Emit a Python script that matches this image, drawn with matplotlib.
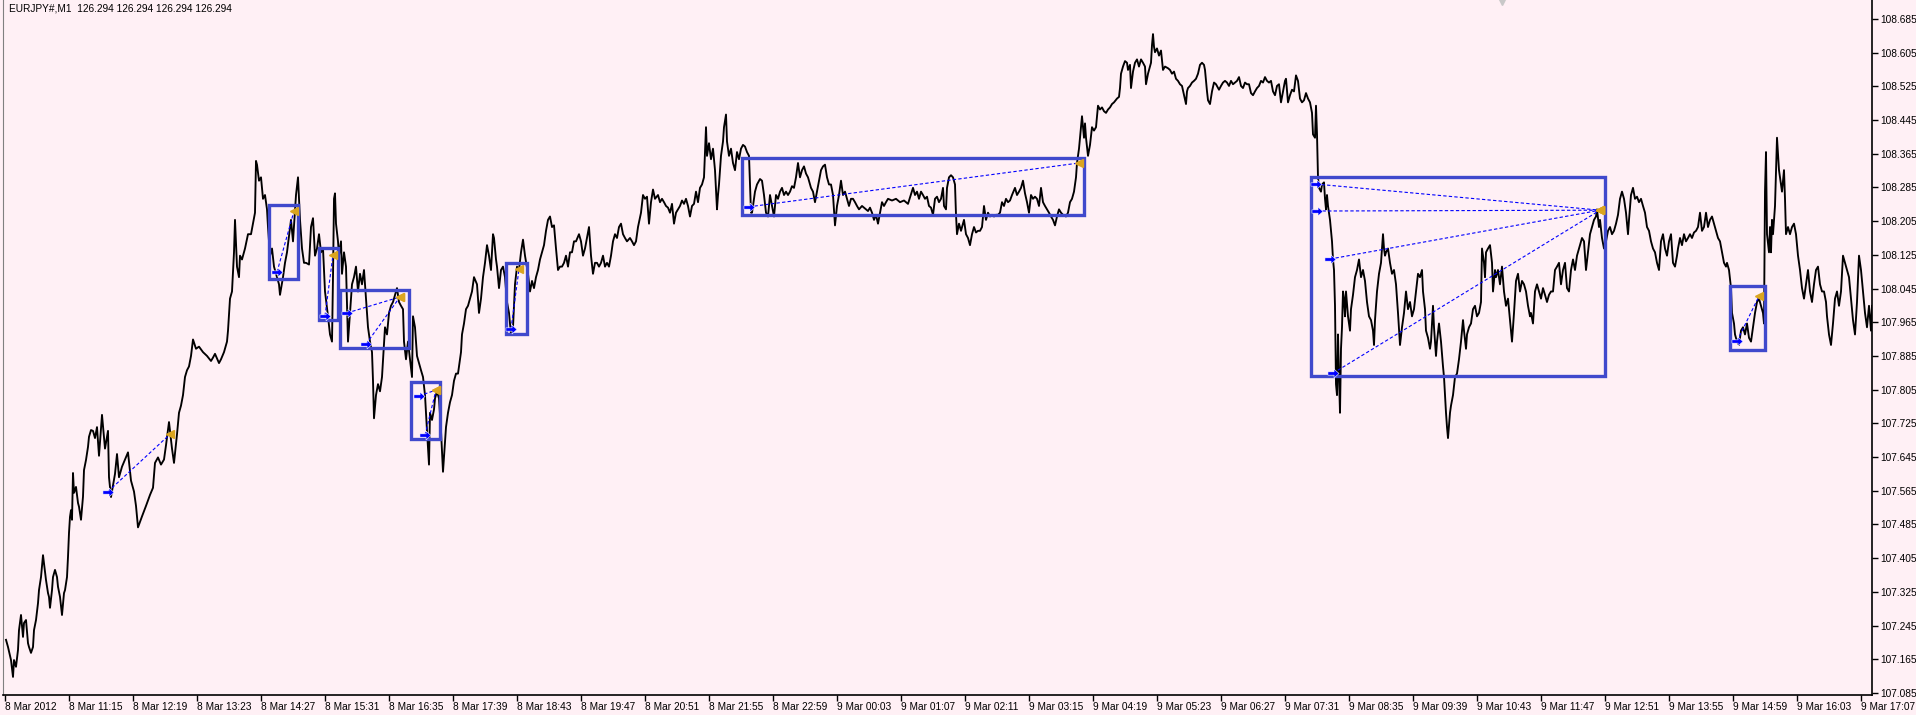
import numpy as np
import matplotlib.pyplot as plt
from matplotlib.patches import Rectangle
from matplotlib.path import Path

# EURJPY M1 close, minutes counted from 8 Mar 10:11
minute = [1, 3, 6, 8, 9, 11, 13, 14, 16, 18, 19, 21, 23, 24, 26, 28, 29, 31, 33, 34, 36, 38, 39, 41, 43,
          44, 45, 47, 48, 50, 52, 53, 55, 57, 59, 60, 62, 63, 64, 65, 66, 67, 68, 69, 71, 73, 74, 76, 78, 79,
          81, 83, 84, 86, 88, 90, 92, 94, 97, 100, 103, 104, 106, 110, 112, 114, 117, 120, 123,
          126, 129, 131, 133, 137, 141, 145, 148, 150, 153, 156, 159, 161, 164, 167, 169, 172, 174, 176, 178,
          180, 182, 184, 186, 188, 191, 194, 198, 202, 206, 208, 210, 214, 216, 219, 222, 223, 225, 227, 229,
          230, 232, 234, 235, 237, 240, 243, 246, 248, 250, 251, 252, 254, 256, 258, 260, 262, 263, 265, 267,
          269, 272, 274, 275, 278, 280, 282, 286, 288, 290, 291, 293, 294, 295, 297, 299, 301, 304, 306, 308,
          310, 312, 314, 316, 318, 320, 323, 325, 327, 328, 329, 330, 331, 333, 334, 336, 337, 339, 341, 343,
          345, 347, 349, 351, 353, 355, 357, 359, 361, 363, 365, 367, 368, 369, 371, 373, 375, 377, 380, 382,
          384, 386, 388, 391, 392, 394, 396, 398, 399, 401, 403, 405, 407, 408, 410, 412, 414, 416, 418, 420,
          422, 424, 425, 427, 429, 430, 432, 434, 436, 438, 440, 441, 443, 445, 447, 449, 451, 453, 455, 456,
          457, 459, 461, 463, 465, 467, 469, 472, 474, 476, 478, 480, 482, 484, 486, 488, 489, 491, 492, 494,
          496, 498, 500, 502, 504, 506, 508, 510, 512, 514, 516, 518, 520, 523, 525, 527, 529, 531, 533, 535,
          537, 539, 541, 543, 545, 547, 549, 551, 553, 555, 557, 559, 561, 563, 565, 567, 569, 571, 574, 576,
          578, 580, 582, 584, 586, 588, 590, 592, 594, 596, 598, 600, 602, 604, 606, 608, 610, 612, 614, 616,
          618, 620, 622, 625, 627, 629, 631, 633, 636, 638, 640, 642, 644, 646, 648, 650, 653, 655, 657, 659,
          661, 663, 665, 667, 669, 671, 673, 675, 677, 679, 681, 683, 685, 687, 689, 691, 693, 695, 697, 699,
          701, 702, 704, 706, 708, 710, 712, 713, 714, 716, 718, 719, 721, 722, 724, 726, 728, 730, 732, 734,
          736, 738, 740, 742, 744, 746, 747, 748, 750, 752, 755, 757, 759, 761, 763, 765, 767, 769, 771, 773,
          775, 777, 779, 781, 783, 785, 787, 789, 791, 793, 795, 797, 799, 801, 803, 806, 808, 810, 812, 814,
          816, 818, 820, 822, 824, 826, 828, 830, 832, 834, 836, 838, 840, 842, 844, 846, 848, 850, 852, 854,
          857, 859, 861, 863, 865, 867, 869, 871, 873, 875, 877, 879, 881, 883, 887, 891, 895, 899, 903, 908,
          910, 912, 914, 916, 918, 920, 922, 924, 926, 928, 930, 932, 934, 936, 938, 939, 941, 942, 944, 946,
          948, 950, 951, 952, 954, 956, 959, 961, 963, 965, 967, 969, 971, 973, 975, 977, 979, 981, 983, 985,
          987, 989, 991, 993, 995, 997, 999, 1001, 1003, 1005, 1007, 1010, 1012, 1014, 1016, 1018, 1020, 1022,
          1024, 1026, 1028, 1030, 1032, 1034, 1036, 1038, 1040, 1042, 1044, 1046, 1048, 1050, 1052, 1054, 1056,
          1058, 1061, 1063, 1065, 1067, 1069, 1071, 1072, 1074, 1075, 1077, 1078, 1079, 1080, 1081, 1083, 1085,
          1087, 1089, 1091, 1093, 1095, 1097, 1099, 1101, 1103, 1105, 1107, 1109, 1112, 1114, 1115, 1116, 1118,
          1120, 1122, 1123, 1125, 1126, 1128, 1130, 1132, 1134, 1136, 1138, 1140, 1141, 1143, 1144, 1146, 1147,
          1148, 1149, 1150, 1152, 1154, 1156, 1158, 1160, 1163, 1165, 1167, 1169, 1171, 1173, 1175, 1177, 1179,
          1181, 1182, 1183, 1185, 1187, 1189, 1191, 1193, 1195, 1197, 1199, 1200, 1202, 1203, 1205, 1207, 1209,
          1211, 1214, 1216, 1218, 1220, 1222, 1224, 1226, 1228, 1230, 1232, 1234, 1236, 1238, 1240, 1242, 1244,
          1246, 1248, 1250, 1252, 1254, 1256, 1258, 1260, 1262, 1264, 1266, 1268, 1270, 1272, 1274, 1276, 1278,
          1280, 1281, 1283, 1285, 1287, 1289, 1291, 1293, 1295, 1297, 1299, 1301, 1303, 1305, 1307, 1308, 1310,
          1311, 1312, 1313, 1314, 1316, 1317, 1319, 1320, 1321, 1322, 1323, 1325, 1327, 1328, 1329, 1330, 1331,
          1332, 1333, 1334, 1335, 1336, 1337, 1338, 1339, 1340, 1341, 1343, 1345, 1346, 1348, 1350, 1352, 1354,
          1356, 1358, 1360, 1362, 1364, 1366, 1368, 1369, 1370, 1372, 1374, 1376, 1378, 1379, 1380, 1381, 1383,
          1385, 1387, 1389, 1391, 1393, 1395, 1397, 1399, 1401, 1403, 1405, 1407, 1409, 1411, 1413, 1415, 1417,
          1418, 1420, 1421, 1423, 1425, 1426, 1428, 1429, 1431, 1432, 1434, 1436, 1438, 1439, 1441, 1442, 1443,
          1445, 1446, 1448, 1450, 1452, 1454, 1456, 1458, 1459, 1461, 1462, 1464, 1466, 1468, 1470, 1472, 1474,
          1476, 1477, 1479, 1480, 1481, 1483, 1485, 1487, 1488, 1490, 1491, 1493, 1495, 1497, 1499, 1501, 1503,
          1505, 1507, 1509, 1511, 1513, 1515, 1517, 1519, 1521, 1523, 1525, 1526, 1528, 1530, 1532, 1534, 1536,
          1538, 1540, 1542, 1544, 1546, 1548, 1550, 1552, 1554, 1556, 1558, 1560, 1562, 1564, 1566, 1568, 1570,
          1572, 1574, 1575, 1577, 1579, 1581, 1583, 1585, 1587, 1589, 1591, 1592, 1594, 1595, 1597, 1599, 1601,
          1603, 1605, 1607, 1609, 1611, 1613, 1615, 1617, 1619, 1621, 1623, 1624, 1626, 1628, 1630, 1632, 1634,
          1636, 1638, 1640, 1642, 1644, 1646, 1648, 1650, 1652, 1654, 1656, 1658, 1660, 1662, 1664, 1666, 1668,
          1670, 1672, 1673, 1675, 1677, 1679, 1681, 1683, 1685, 1687, 1689, 1691, 1693, 1695, 1697, 1699, 1701,
          1703, 1705, 1707, 1709, 1711, 1713, 1715, 1717, 1719, 1721, 1722, 1724, 1726, 1727, 1729, 1730, 1732,
          1734, 1736, 1738, 1740, 1742, 1744, 1746, 1748, 1750, 1752, 1754, 1756, 1758, 1759, 1760, 1761, 1762,
          1764, 1765, 1766, 1767, 1768, 1770, 1771, 1772, 1774, 1775, 1777, 1779, 1780, 1781, 1783, 1785, 1787,
          1789, 1791, 1793, 1795, 1797, 1799, 1801, 1803, 1805, 1807, 1809, 1811, 1813, 1815, 1817, 1819, 1821,
          1822, 1824, 1826, 1828, 1830, 1832, 1834, 1836, 1838, 1840, 1842, 1844, 1846, 1848, 1850, 1852, 1854,
          1856, 1858, 1860, 1862, 1864, 1866, 1867]

price = [107.211, 107.194, 107.163, 107.123, 107.163, 107.147, 107.187, 107.234, 107.270, 107.218, 107.251,
         107.258, 107.203, 107.194, 107.180, 107.194, 107.234, 107.258, 107.298, 107.329, 107.360, 107.412, 107.393,
         107.353, 107.322, 107.313, 107.287, 107.329, 107.360, 107.377, 107.360, 107.337, 107.313, 107.270, 107.322,
         107.329, 107.360, 107.408, 107.465, 107.503, 107.519, 107.496, 107.607, 107.560, 107.574, 107.536, 107.527,
         107.496, 107.551, 107.614, 107.638, 107.669, 107.693, 107.709,
         107.707, 107.690, 107.716, 107.648, 107.745, 107.665, 107.707, 107.597, 107.550, 107.605, 107.652, 107.597,
         107.622, 107.639, 107.656, 107.589, 107.563,
         107.529, 107.478, 107.504, 107.529, 107.555, 107.572, 107.631, 107.644, 107.627, 107.639, 107.673, 107.728,
         107.665, 107.631, 107.699, 107.750, 107.767, 107.792, 107.835, 107.851, 107.860, 107.885, 107.924, 107.902,
         107.907, 107.894, 107.885, 107.873, 107.881, 107.890, 107.868, 107.877, 107.894, 107.919, 107.945, 108.021,
         108.038, 108.131, 108.208, 108.097, 108.072, 108.123, 108.114, 108.140, 108.174, 108.174, 108.199, 108.225,
         108.348, 108.339, 108.301, 108.309, 108.258, 108.267, 108.233, 108.191, 108.123, 108.140, 108.097, 108.072,
         108.055, 108.030, 108.072, 108.106, 108.131, 108.208, 108.157, 108.233, 108.267, 108.309, 108.258, 108.208,
         108.140, 108.106, 108.106, 108.102, 108.191, 108.212, 108.123, 108.140, 108.174, 108.131, 108.140, 108.038,
         107.979, 107.936, 107.919, 108.072, 108.258, 108.271, 108.199, 108.157, 108.123, 108.157, 108.080, 108.131,
         108.097, 107.919, 107.987, 108.055, 108.072, 108.097, 108.038, 108.080, 108.055, 108.089, 108.021, 107.953,
         107.919, 107.894, 107.826, 107.737, 107.792, 107.818, 107.801, 107.835, 107.953, 107.936, 107.987, 108.004,
         108.013, 108.038, 108.046, 108.013, 108.004, 107.996, 107.919, 107.877, 107.919, 107.877, 107.835, 107.979,
         107.953, 107.885, 107.868, 107.851, 107.835, 107.792, 107.707, 107.627, 107.750, 107.733, 107.758, 107.784,
         107.801, 107.784, 107.707, 107.610, 107.682, 107.716, 107.750, 107.775, 107.792, 107.826, 107.843, 107.843,
         107.877, 107.894, 107.936, 107.962, 107.996, 108.004, 108.021, 108.038, 108.072, 108.055, 107.987, 108.021,
         108.072, 108.106, 108.148, 108.123, 108.089, 108.174, 108.165, 108.114, 108.097, 108.046, 108.089, 108.097,
         108.072, 108.013, 107.987, 107.936, 107.953, 108.055, 108.097, 108.089, 108.131, 108.161, 108.123, 108.080,
         108.038, 108.063, 108.046, 108.072, 108.089, 108.114, 108.131, 108.148, 108.182, 108.208, 108.216, 108.191,
         108.195, 108.140, 108.089, 108.097, 108.097, 108.106, 108.123, 108.097, 108.131, 108.131, 108.157, 108.157,
         108.174, 108.157, 108.123, 108.140, 108.165, 108.191, 108.123, 108.080, 108.106, 108.106, 108.097, 108.106,
         108.123, 108.097, 108.106, 108.097, 108.123, 108.157, 108.174, 108.165, 108.191, 108.199, 108.174, 108.165,
         108.157, 108.165, 108.157, 108.148, 108.157, 108.191, 108.225, 108.267, 108.258, 108.263, 108.199, 108.250,
         108.280, 108.258, 108.267, 108.250, 108.258, 108.250, 108.241, 108.237, 108.225, 108.246, 108.199, 108.225,
         108.233, 108.241, 108.254, 108.246, 108.258, 108.241, 108.216, 108.241, 108.246, 108.275, 108.250, 108.284,
         108.292, 108.309, 108.428, 108.360, 108.390, 108.352, 108.377, 108.326, 108.233, 108.267, 108.292, 108.360,
         108.394, 108.428, 108.458, 108.394, 108.360, 108.377, 108.343, 108.326, 108.369, 108.352, 108.377, 108.386,
         108.382, 108.369, 108.360, 108.225, 108.225, 108.241, 108.275, 108.292, 108.305, 108.301, 108.267, 108.225,
         108.216, 108.267, 108.241, 108.216, 108.267, 108.258, 108.275, 108.284, 108.267, 108.275, 108.267, 108.275,
         108.288, 108.284, 108.309, 108.343, 108.309, 108.326, 108.335, 108.318, 108.309, 108.284, 108.275, 108.250,
         108.275, 108.301, 108.326, 108.335, 108.339, 108.309, 108.292, 108.292, 108.267, 108.195, 108.241, 108.267,
         108.301, 108.267, 108.275, 108.258, 108.241, 108.258, 108.258, 108.250, 108.241, 108.233, 108.241, 108.237,
         108.233, 108.229, 108.237, 108.225, 108.208, 108.220, 108.199, 108.225, 108.250, 108.241, 108.250, 108.258,
         108.254, 108.258, 108.250, 108.254, 108.246, 108.284, 108.267, 108.275, 108.258, 108.275, 108.267, 108.258,
         108.263, 108.241, 108.237, 108.220, 108.258, 108.263, 108.250, 108.258, 108.284, 108.241, 108.233, 108.284,
         108.309, 108.314, 108.309, 108.292, 108.220, 108.174, 108.199, 108.182, 108.208, 108.174, 108.165, 108.148,
         108.174, 108.191, 108.178, 108.182, 108.182, 108.191, 108.241, 108.208, 108.225, 108.216, 108.220, 108.216,
         108.220, 108.220, 108.225, 108.250, 108.241, 108.258, 108.250, 108.254, 108.267, 108.284, 108.267, 108.275,
         108.284, 108.301, 108.271, 108.250, 108.225, 108.267, 108.258, 108.263, 108.258, 108.241, 108.284, 108.250,
         108.241, 108.233, 108.225, 108.216, 108.208, 108.195, 108.216, 108.233, 108.225, 108.220, 108.216, 108.225,
         108.250, 108.258, 108.275, 108.309, 108.343, 108.377, 108.403, 108.454, 108.428, 108.403, 108.437, 108.403,
         108.360, 108.386, 108.428, 108.420, 108.428, 108.479, 108.470, 108.475, 108.466, 108.462, 108.470, 108.475,
         108.483, 108.487, 108.496, 108.500, 108.521, 108.555, 108.572, 108.585, 108.581, 108.564, 108.576, 108.521,
         108.560, 108.581, 108.589, 108.572, 108.589, 108.581, 108.572, 108.530, 108.555, 108.564, 108.581, 108.623,
         108.649, 108.619, 108.606, 108.615, 108.598, 108.610, 108.564, 108.572, 108.568, 108.564, 108.555, 108.560,
         108.543, 108.538, 108.530, 108.526, 108.504, 108.483, 108.513, 108.521, 108.526, 108.534, 108.538, 108.543,
         108.555, 108.576, 108.581, 108.576, 108.564, 108.513, 108.492, 108.483, 108.513, 108.534, 108.530, 108.517,
         108.526, 108.534, 108.538, 108.534, 108.526, 108.538, 108.530, 108.534, 108.538, 108.547, 108.526, 108.521,
         108.534, 108.530, 108.530, 108.509, 108.504, 108.513, 108.521, 108.526, 108.538, 108.534, 108.547, 108.538,
         108.534, 108.538, 108.513, 108.504, 108.526, 108.530, 108.487, 108.513, 108.538, 108.543, 108.487, 108.504,
         108.517, 108.513, 108.551, 108.538, 108.496, 108.487, 108.492, 108.509, 108.496, 108.487, 108.462, 108.411,
         108.403, 108.479, 108.411, 108.309, 108.284, 108.275, 108.292, 108.297, 108.258, 108.233, 108.267, 108.241,
         108.208, 108.157, 108.114, 108.089, 108.004, 107.818, 107.792, 107.936, 107.835, 107.750, 107.902, 107.953,
         108.038, 108.021, 107.979, 108.038, 107.979, 107.945, 107.996, 108.030, 108.072, 108.089, 108.114, 108.072,
         108.089, 108.063, 108.013, 107.979, 107.970, 107.945, 107.911, 107.970, 108.038, 108.080, 108.106, 108.174,
         108.140, 108.123, 108.131, 108.140, 108.106, 108.080, 108.089, 108.055, 107.987, 107.911, 107.953, 107.987,
         108.038, 107.996, 108.013, 107.979, 107.996, 108.038, 108.080, 108.072, 108.089, 108.038, 107.996, 107.945,
         107.928, 107.902, 107.919, 108.004, 107.953, 107.885, 107.919, 107.962, 107.919, 107.860, 107.835, 107.750,
         107.716, 107.690, 107.750, 107.767, 107.792, 107.835, 107.843, 107.877, 107.919, 107.970, 107.945, 107.902,
         107.936, 107.953, 107.962, 107.996, 108.004, 107.979, 107.987, 108.013, 108.140, 108.106, 108.072, 108.131,
         108.140, 108.148, 108.106, 108.038, 108.089, 108.072, 108.089, 108.055, 108.097, 108.038, 108.004, 108.021,
         107.970, 107.919, 107.987, 108.063, 108.080, 108.038, 108.063, 108.055, 108.038, 108.004, 107.979, 107.987,
         107.962, 108.038, 108.055, 108.038, 108.021, 108.046, 108.030, 108.013, 108.030, 108.038, 108.038, 108.089,
         108.097, 108.106, 108.055, 108.089, 108.106, 108.046, 108.038, 108.089, 108.114, 108.089, 108.123, 108.140,
         108.148, 108.165, 108.157, 108.089, 108.131, 108.174, 108.191, 108.208, 108.216, 108.233, 108.191, 108.208,
         108.165, 108.140, 108.157, 108.182, 108.191, 108.174, 108.182, 108.199, 108.220, 108.258, 108.275, 108.258,
         108.225, 108.174, 108.208, 108.267, 108.284, 108.258, 108.263, 108.250, 108.258, 108.241, 108.225, 108.191,
         108.182, 108.157, 108.140, 108.131, 108.106, 108.089, 108.157, 108.174, 108.140, 108.123, 108.157, 108.174,
         108.106, 108.097, 108.123, 108.140, 108.165, 108.148, 108.174, 108.157, 108.165, 108.174, 108.165, 108.178,
         108.182, 108.191, 108.225, 108.182, 108.191, 108.225, 108.191, 108.208, 108.216, 108.199, 108.182, 108.165,
         108.157, 108.131, 108.106, 108.097, 108.106, 108.089, 108.046, 107.987, 107.962, 107.936, 107.919, 107.911,
         107.945, 107.953, 107.936, 107.962, 107.928, 107.919, 107.953, 107.987, 108.013, 108.021, 108.004, 107.987,
         107.962, 108.275, 108.369, 108.174, 108.131, 108.191, 108.131, 108.208, 108.174, 108.241, 108.326, 108.403,
         108.326, 108.309, 108.275, 108.326, 108.258, 108.174, 108.191, 108.174, 108.191, 108.199, 108.174, 108.123,
         108.089, 108.046, 108.021, 108.055, 108.089, 108.038, 108.013, 108.055, 108.089, 108.097, 108.055, 108.038,
         108.038, 108.013, 107.979, 107.936, 107.911, 107.962, 108.021, 108.038, 108.004, 108.038, 108.123, 108.106,
         108.089, 108.072, 108.021, 107.970, 107.936, 108.013, 108.123, 108.089, 108.038, 107.987, 107.953, 108.004,
         107.945, 108.004]

xlabels = ['8 Mar 2012', '8 Mar 11:15', '8 Mar 12:19', '8 Mar 13:23', '8 Mar 14:27', '8 Mar 15:31',
           '8 Mar 16:35', '8 Mar 17:39', '8 Mar 18:43', '8 Mar 19:47', '8 Mar 20:51', '8 Mar 21:55',
           '8 Mar 22:59', '9 Mar 00:03', '9 Mar 01:07', '9 Mar 02:11', '9 Mar 03:15', '9 Mar 04:19',
           '9 Mar 05:23', '9 Mar 06:27', '9 Mar 07:31', '9 Mar 08:35', '9 Mar 09:39', '9 Mar 10:43',
           '9 Mar 11:47', '9 Mar 12:51', '9 Mar 13:55', '9 Mar 14:59', '9 Mar 16:03', '9 Mar 17:07']
yticks = [107.085, 107.165, 107.245, 107.325, 107.405, 107.485, 107.565, 107.645, 107.725, 107.805, 107.885,
          107.965, 108.045, 108.125, 108.205, 108.285, 108.365, 108.445, 108.525, 108.605, 108.685]

# rectangles drawn on the chart
box_t0 = [264, 314, 335, 406, 501, 737, 1306, 1725]
box_t1 = [293, 333, 404, 435, 522, 1079, 1600, 1760]
box_hi = [108.243, 108.141, 108.042, 107.823, 108.106, 108.355, 108.310, 108.051]
box_lo = [108.068, 107.970, 107.904, 107.688, 107.937, 108.220, 107.837, 107.899]

# trade arrows: entry -> exit
entry_t = [103, 272, 320, 342, 361, 414, 420, 506, 744, 1311, 1312, 1325, 1328, 1732]
entry_p = [107.563, 108.084, 107.980, 107.987, 107.913, 107.790, 107.697, 107.949, 108.239,
           108.293, 108.229, 108.115, 107.844, 107.920]
exit_t = [165, 289, 328, 395, 395, 431, 431, 514, 1074, 1595, 1595, 1595, 1595, 1754]
exit_p = [107.699, 108.229, 108.125, 108.025, 108.025, 107.804, 107.804, 108.091, 108.343,
          108.231, 108.231, 108.231, 108.231, 108.027]

# chart shift marker on the top edge
shift_t = 1497

bg = '#fff0f5'
box_col = '#4049cc'
plt.rcParams['font.family'] = ['Liberation Sans', 'DejaVu Sans']

# thick right arrow used by the terminal for entries
arrow = Path([(-1, -0.3), (0.1, -0.3), (0.1, -0.8), (1, 0), (0.1, 0.8), (0.1, 0.3), (-1, 0.3), (-1, -0.3)],
             [Path.MOVETO] + [Path.LINETO] * 6 + [Path.CLOSEPOLY])

fig = plt.figure(figsize=(19.16, 7.15), dpi=100, facecolor=bg)
ax = fig.add_axes([3 / 1916, 20 / 715, 1869 / 1916, 695 / 715])
ax.set_facecolor(bg)

ax.plot(minute, price, color='black', lw=1.35, zorder=3)

for t0, t1, hi, lo in zip(box_t0, box_t1, box_hi, box_lo):
    ax.add_patch(Rectangle((t0, lo), t1 - t0, hi - lo, fill=False, ec=box_col, lw=2.4, zorder=4))

for t0, p0, t1, p1 in zip(entry_t, entry_p, exit_t, exit_p):
    ax.plot([t0, t1], [p0, p1], color='#0000ff', lw=0.8, ls=(0, (3, 2)), zorder=5)
ax.plot(entry_t, entry_p, ls='none', marker=arrow, ms=8, color='#0000ff', mec='white', mew=0.4, zorder=6)
ax.plot(exit_t, exit_p, ls='none', marker='<', ms=5.5, color='#daa520', zorder=6)

ax.plot([shift_t], [108.730], ls='none', marker='v', ms=7, color='#c8c8c8', clip_on=False, zorder=6)

ax.set_xlim(-2, 1867)
ax.set_ylim(107.080, 108.730)

ax.set_xticks(np.arange(len(xlabels)) * 64)
ax.set_xticklabels(xlabels, ha='left')
ax.set_yticks(yticks)
ax.set_yticklabels(['%.3f' % v for v in yticks])
ax.yaxis.tick_right()
ax.tick_params(axis='y', direction='out', length=4, width=1, labelsize=7.3, pad=2, colors='black')
ax.tick_params(axis='x', direction='out', length=4, width=1, labelsize=7.3, pad=1, colors='black')

ax.spines['top'].set_visible(False)
ax.spines['left'].set_color('#808080')
ax.spines['right'].set_linewidth(1.2)
ax.spines['bottom'].set_linewidth(1.2)

ax.text(0.003, 0.995, 'EURJPY#,M1  126.294 126.294 126.294 126.294', transform=ax.transAxes,
        fontsize=7.3, va='top', ha='left')

fig.savefig('out.png', dpi=100, facecolor=bg)
